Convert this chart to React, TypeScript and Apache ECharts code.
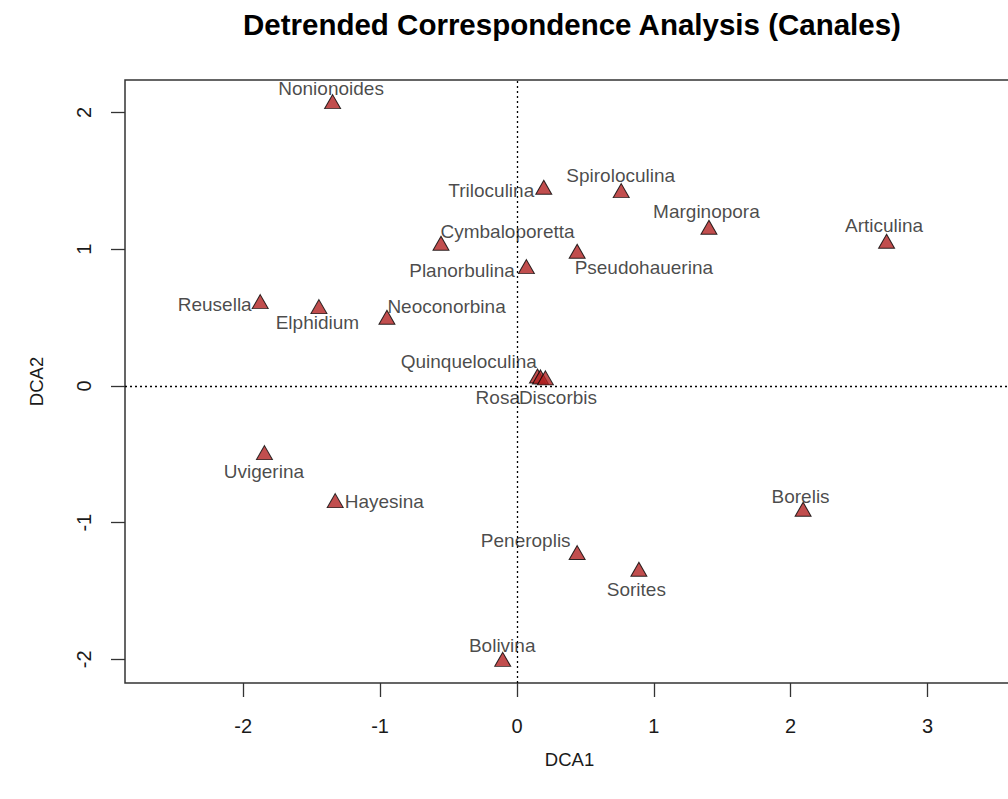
import React, { useEffect, useRef } from 'react';
import * as echarts from 'echarts';

const species = [
  'Nonionoides', 'Triloculina', 'Cymbaloporetta', 'Planorbulina', 'Reusella',
  'Elphidium', 'Neoconorbina', 'Spiroloculina', 'Marginopora', 'Articulina',
  'Pseudohauerina', 'Quinqueloculina', 'Rosa', 'Discorbis', 'Uvigerina',
  'Hayesina', 'Bolivina', 'Borelis', 'Peneroplis', 'Sorites',
];
const dca1 = [
  -1.347, 0.196, -0.555, 0.069, -1.876,
  -1.447, -0.950, 0.762, 1.403, 2.701,
  0.440, 0.150, 0.172, 0.208, -1.845,
  -1.328, -0.104, 2.091, 0.440, 0.891,
];
const dca2 = [
  2.080, 1.454, 1.044, 0.873, 0.617,
  0.580, 0.503, 1.429, 1.161, 1.058,
  0.985, 0.073, 0.066, 0.059, -0.488,
  -0.839, -2.000, -0.902, -1.219, -1.341,
];
// label anchor offset from the point, in pixels, and text alignment
const labelPlacement: [number, number, string][] = [
  [-1, -13, 'center'], [-9, 4, 'right'], [0, -11, 'left'], [-11, 4, 'right'], [-8, 3, 'right'],
  [-1, 16, 'center'], [1, -10, 'left'], [0, -15, 'center'], [-2, -15, 'center'], [-2, -15, 'center'],
  [-2, 17, 'left'], [0, -14, 'right'], [-20, 21, 'right'], [-26, 20, 'left'], [0, 19, 'center'],
  [10, 1, 'left'], [0, -13, 'center'], [-2, -12, 'center'], [-6, -12, 'right'], [-2, 21, 'center'],
];
const xTicks = [-2, -1, 0, 1, 2, 3];
const yTicks = [-2, -1, 0, 1, 2];

const FONT = "'Liberation Sans', Arial, sans-serif";

export default function App() {
  const ref = useRef<HTMLDivElement>(null);
  useEffect(() => {
    document.body.style.overflow = 'hidden';
    const chart = echarts.init(ref.current!, null, { renderer: 'svg' });
    const SW = 16;
    const SH = 14;
    const data = species.map((name, i) => {
      const [dx, dy, align] = labelPlacement[i];
      return {
        name,
        value: [dca1[i], dca2[i]],
        label: {
          show: true,
          formatter: name,
          position: [SW / 2 + dx, SH / 2 + dy],
          align,
          verticalAlign: 'middle',
        },
      };
    });
    chart.setOption({
      animation: false,
      backgroundColor: '#ffffff',
      title: {
        text: 'Detrended Correspondence Analysis (Canales)',
        left: 238,
        top: 4,
        textStyle: { fontFamily: FONT, fontSize: 29.5, fontWeight: 'bold', color: '#000' },
      },
      grid: {
        left: 125,
        top: 80,
        right: 0,
        bottom: 116,
        show: true,
        borderColor: '#333',
        borderWidth: 1.5,
        backgroundColor: 'transparent',
      },
      xAxis: {
        type: 'value',
        min: -2.864,
        max: 3.632,
        name: 'DCA1',
        nameLocation: 'middle',
        nameGap: 67,
        nameTextStyle: { fontFamily: FONT, fontSize: 18.5, color: '#1a1a1a' },
        splitLine: { show: false },
        axisLine: { show: false, onZero: false },
        axisTick: { show: true, length: 14, customValues: xTicks, lineStyle: { color: '#333', width: 1.3 } },
        axisLabel: { customValues: xTicks, fontFamily: FONT, fontSize: 20, color: '#1a1a1a', margin: 33 },
      },
      yAxis: {
        type: 'value',
        min: -2.173,
        max: 2.238,
        name: 'DCA2',
        nameLocation: 'middle',
        nameGap: 79,
        nameTextStyle: { fontFamily: FONT, fontSize: 18.5, color: '#1a1a1a' },
        splitLine: { show: false },
        axisLine: { show: false, onZero: false },
        axisTick: { show: true, length: 14, customValues: yTicks, lineStyle: { color: '#333', width: 1.3 } },
        axisLabel: { customValues: yTicks, rotate: 90, fontFamily: FONT, fontSize: 20, color: '#1a1a1a', margin: 31 },
      },
      series: [
        {
          type: 'scatter',
          symbol: 'triangle',
          symbolSize: [SW, SH],
          itemStyle: { color: '#B22222', borderColor: '#000', borderWidth: 1 },
          label: { fontFamily: FONT, fontSize: 19, color: '#1a1a1a' },
          data,
          markLine: {
            silent: true,
            symbol: ['none', 'none'],
            label: { show: false },
            lineStyle: { color: '#000', type: [2, 3], width: 1.3 },
            data: [{ xAxis: 0 }, { yAxis: 0 }],
          },
        },
      ],
    });
    return () => chart.dispose();
  }, []);
  return (
    <div
      ref={ref}
      style={{ position: 'fixed', left: 0, top: 0, width: 1014, height: 799, background: '#fff' }}
    />
  );
}
